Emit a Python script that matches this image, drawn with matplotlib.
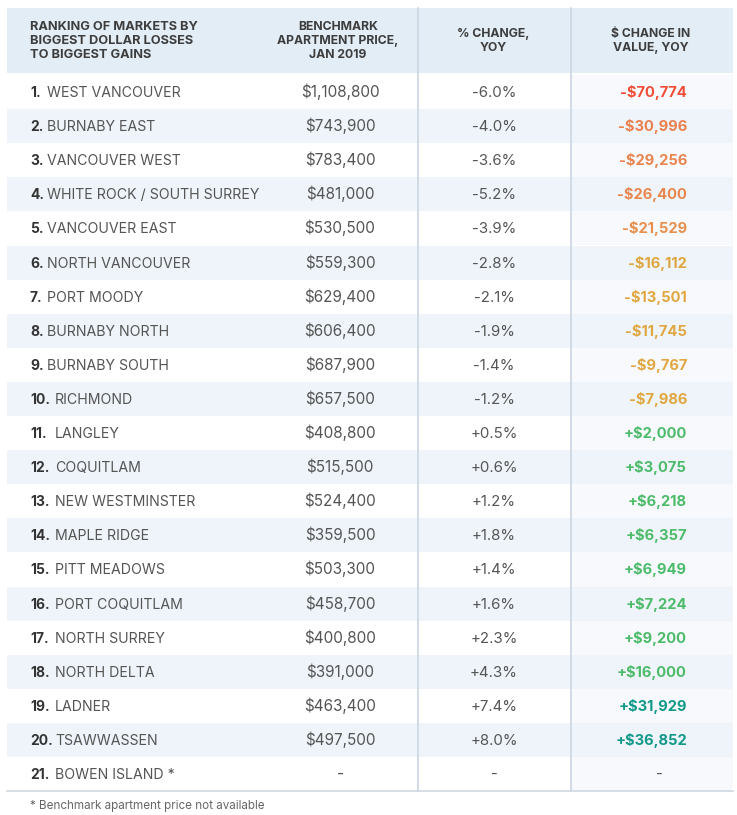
import matplotlib.pyplot as plt
from matplotlib.patches import Rectangle

plt.rcParams['font.family'] = ['Inter', 'DejaVu Sans']

headers = ["RANKING OF MARKETS BY\nBIGGEST DOLLAR LOSSES\nTO BIGGEST GAINS",
           "BENCHMARK\nAPARTMENT PRICE,\nJAN 2019",
           "% CHANGE,\nYOY",
           "$ CHANGE IN\nVALUE, YOY"]

markets = ["WEST VANCOUVER", "BURNABY EAST", "VANCOUVER WEST", "WHITE ROCK / SOUTH SURREY",
           "VANCOUVER EAST", "NORTH VANCOUVER", "PORT MOODY", "BURNABY NORTH", "BURNABY SOUTH",
           "RICHMOND", "LANGLEY", "COQUITLAM", "NEW WESTMINSTER", "MAPLE RIDGE", "PITT MEADOWS",
           "PORT COQUITLAM", "NORTH SURREY", "NORTH DELTA", "LADNER", "TSAWWASSEN", "BOWEN ISLAND *"]
prices = ["$1,108,800", "$743,900", "$783,400", "$481,000", "$530,500", "$559,300", "$629,400",
          "$606,400", "$687,900", "$657,500", "$408,800", "$515,500", "$524,400", "$359,500",
          "$503,300", "$458,700", "$400,800", "$391,000", "$463,400", "$497,500", "-"]
pct_change = ["-6.0%", "-4.0%", "-3.6%", "-5.2%", "-3.9%", "-2.8%", "-2.1%", "-1.9%", "-1.4%",
              "-1.2%", "+0.5%", "+0.6%", "+1.2%", "+1.8%", "+1.4%", "+1.6%", "+2.3%", "+4.3%",
              "+7.4%", "+8.0%", "-"]
dollar_change = ["-$70,774", "-$30,996", "-$29,256", "-$26,400", "-$21,529", "-$16,112", "-$13,501",
                 "-$11,745", "-$9,767", "-$7,986", "+$2,000", "+$3,075", "+$6,218", "+$6,357",
                 "+$6,949", "+$7,224", "+$9,200", "+$16,000", "+$31,929", "+$36,852", "-"]
dollar_colors = ["#f04e37", "#ea7f4f", "#e9844f", "#e8864e", "#e88f4b", "#e0a640", "#e0a740",
                 "#e0a740", "#e0a740", "#e0a740", "#4cbb6a", "#4cbb6a", "#4cbb6a", "#4cbb6a",
                 "#4cbb6a", "#4cbb6a", "#4cbb6a", "#4cbb6a", "#12998a", "#12998a", "#777777"]

W, H = 737, 815
fig = plt.figure(figsize=(W / 100, H / 100), dpi=100)
ax = fig.add_axes([0, 0, 1, 1])
ax.set_xlim(0, W)
ax.set_ylim(H, 0)
ax.axis('off')

left, right = 7, 733
sep1, sep2 = 418, 571
top_rows, pitch = 75, 34.1
text_col = "#555555"
head_col = "#3d3d3d"

# header band
ax.add_patch(Rectangle((left, 8), right - left, 65, color="#e2edf5", lw=0))
hy = 41
ax.text(30, hy, headers[0], ha='left', va='center', fontsize=9.2, fontweight='bold',
        color=head_col, linespacing=1.2)
for x, h in zip((338, 493, 651), headers[1:]):
    ax.text(x, hy, h, ha='center', va='center', fontsize=8.8, fontweight='bold',
            color=head_col, linespacing=1.25)

for i, name in enumerate(markets):
    y0 = top_rows + i * pitch
    yb = y0 + pitch / 2 + 5  # baseline
    if i % 2 == 1:
        ax.add_patch(Rectangle((left, y0), right - left, pitch, color="#eef4f9", lw=0))
    else:
        ax.add_patch(Rectangle((sep2, y0), right - sep2, pitch, color="#f7f9fc", lw=0))
    ax.text(30, yb, f"{i + 1}.", ha='left', va='baseline', fontsize=10, fontweight='bold',
            color="#333333")
    ax.text(47 if i < 9 else 55, yb, name, ha='left', va='baseline', fontsize=10.2,
            color=text_col)
    ax.text(340, yb, prices[i], ha='center', va='baseline', fontsize=11, color=text_col)
    ax.text(494, yb, pct_change[i], ha='center', va='baseline', fontsize=10.8, color=text_col)
    if dollar_change[i] == "-":
        ax.text(659, yb, "-", ha='center', va='baseline', fontsize=10.8, color=text_col)
    else:
        ax.text(687, yb, dollar_change[i], ha='right', va='baseline', fontsize=10.6,
                fontweight='bold', color=dollar_colors[i])

bottom = top_rows + len(markets) * pitch
for x in (sep1, sep2):
    ax.plot([x, x], [8, bottom], color="#cbd6e2", lw=1.2)
ax.plot([left, right], [bottom, bottom], color="#cfd8e2", lw=1.2)

ax.text(30, 806, "* Benchmark apartment price not available", ha='left', va='center',
        fontsize=8.4, color="#666666")

fig.savefig("out.png", dpi=100)
